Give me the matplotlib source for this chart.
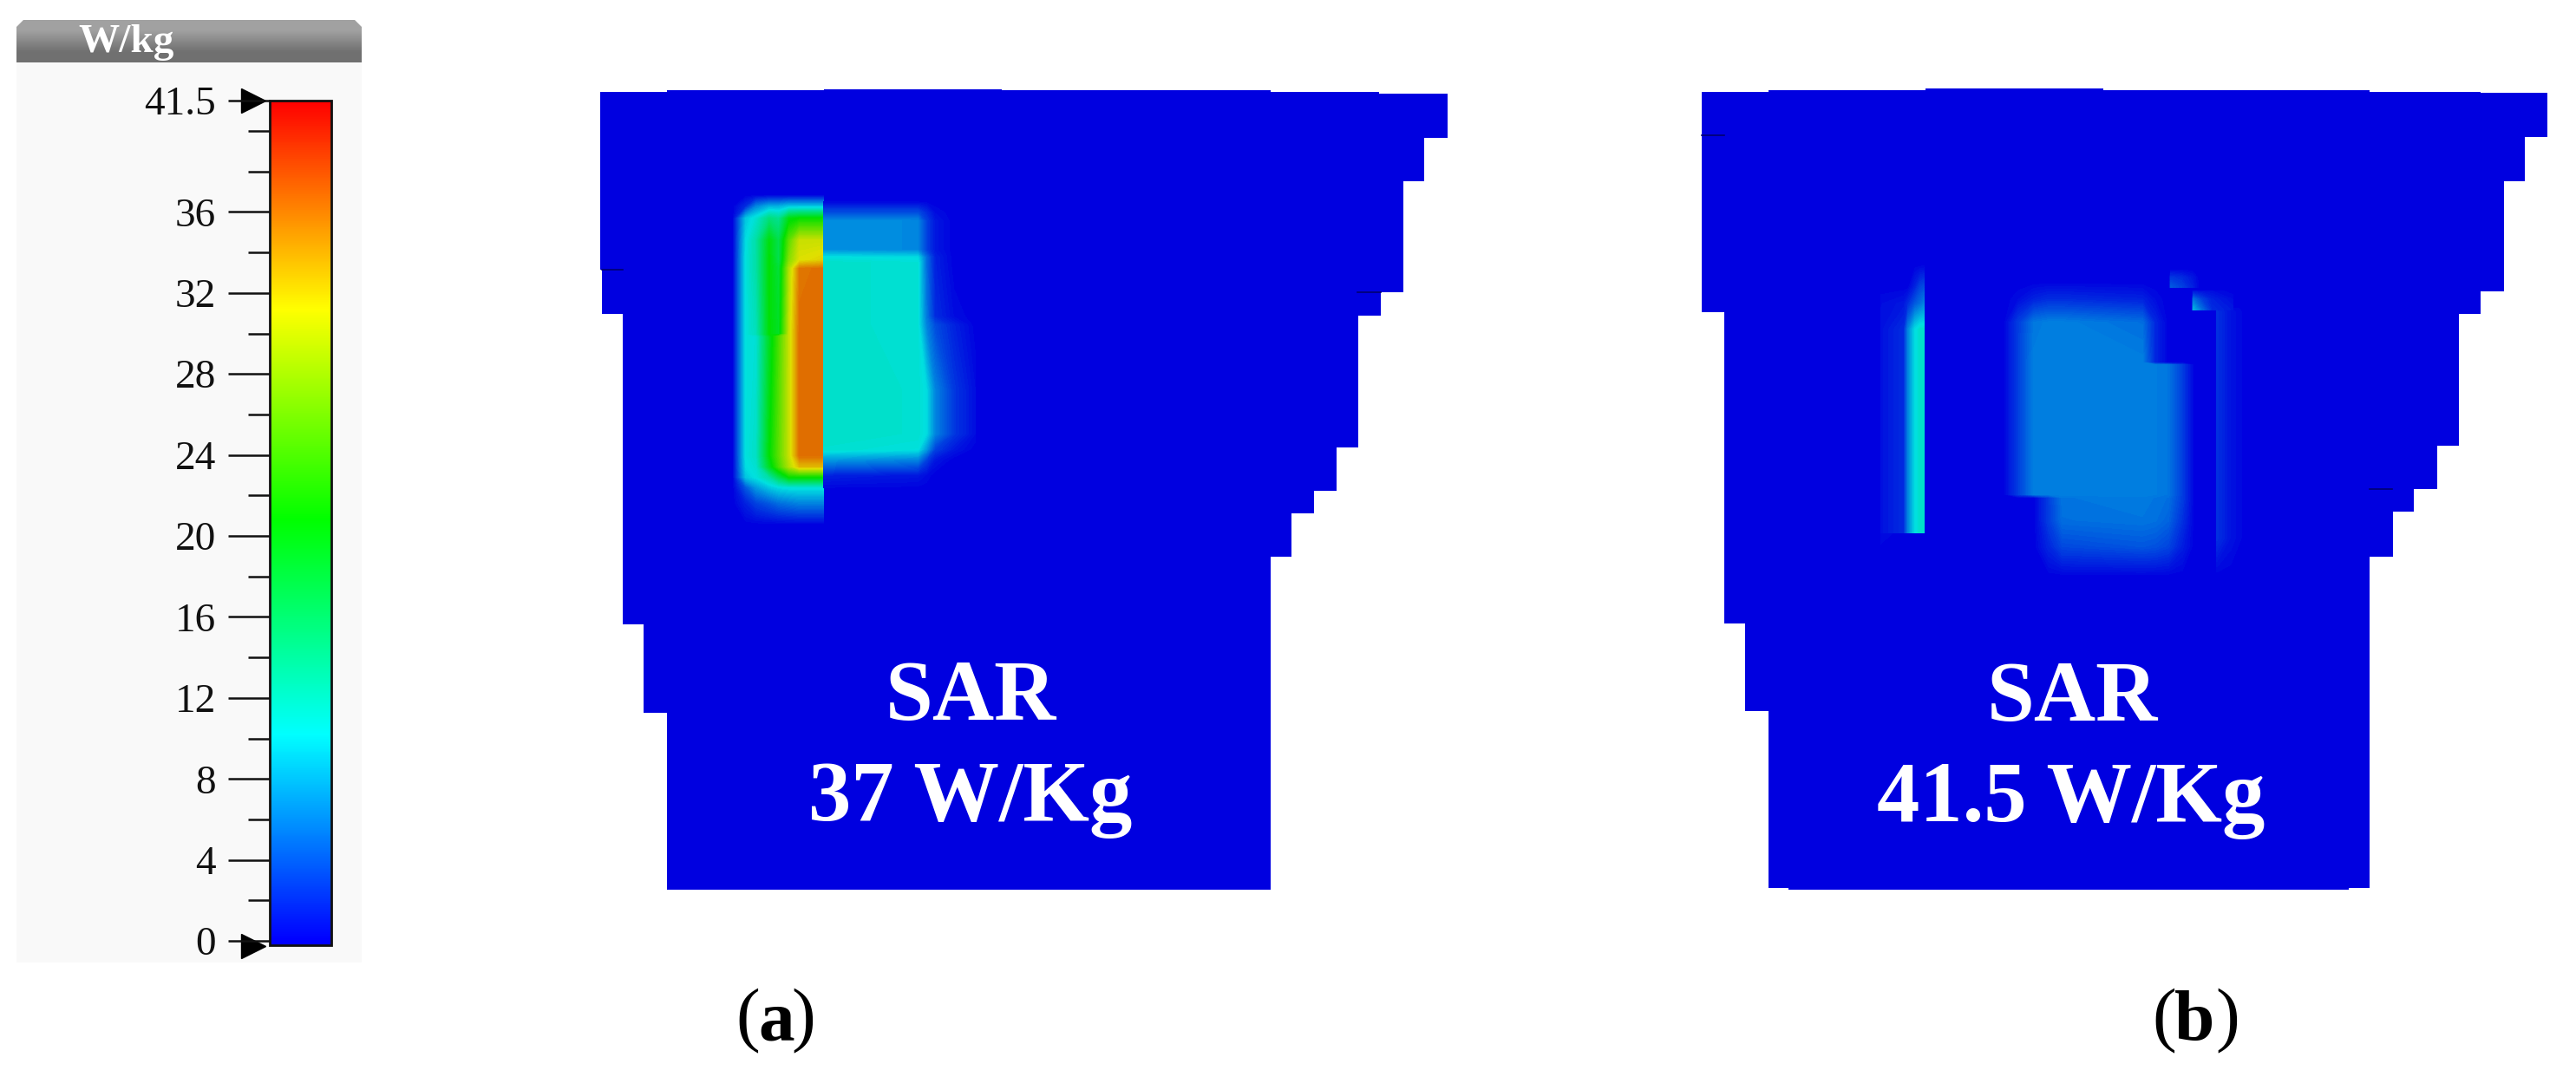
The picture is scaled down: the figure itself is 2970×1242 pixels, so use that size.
import numpy as np
import matplotlib
matplotlib.use('Agg')
import matplotlib.pyplot as plt
from matplotlib.colors import LinearSegmentedColormap, Normalize
from matplotlib.cm import ScalarMappable
from matplotlib.patches import Polygon, Rectangle

W, H = 2970, 1242
SERIF = 'Liberation Serif'

# scale bar
scale_low = -0.21
scale_top = 41.5
scale_stops = [0, 10.2, 20.8, 31.2, 41.5]
scale_colors = ['#0000ff', '#00ffff', '#00ff00', '#ffff00', '#ff0000']
major_ticks = [0, 4, 8, 12, 16, 20, 24, 28, 32, 36, 41.5]
major_labels = ['0', '4', '8', '12', '16', '20', '24', '28', '32', '36', '41.5']
minor_ticks = [2, 6, 10, 14, 18, 22, 26, 30, 34, 38, 40]

# outlines of the two phantoms, in picture pixels
outline_a_x = [692, 769, 769, 950, 950, 1155, 1155, 1465, 1465, 1590, 1590, 1669, 1669, 1642, 1642, 1618, 1618,
               1592, 1592, 1566, 1566, 1541, 1541, 1515, 1515, 1489, 1489, 1465, 1465, 769, 769, 742, 742, 718, 718,
               694, 694, 692]
outline_a_y = [106, 106, 104, 104, 103, 103, 104, 104, 106, 106, 108, 108, 159, 159, 209, 209, 337,
               337, 364, 364, 516, 516, 566, 566, 592, 592, 642, 642, 1026, 1026, 822, 822, 720, 720, 362,
               362, 311, 311]
outline_b_x = [1962, 2039, 2039, 2220, 2220, 2425, 2425, 2732, 2732, 2860, 2860, 2937, 2937, 2911, 2911, 2887, 2887,
               2860, 2860, 2835, 2835, 2810, 2810, 2783, 2783, 2759, 2759, 2732, 2732, 2708, 2708, 2062, 2062,
               2039, 2039, 2012, 2012, 1988, 1988, 1962]
outline_b_y = [106, 106, 104, 104, 102, 102, 104, 104, 106, 106, 107, 107, 158, 158, 209, 209, 336,
               336, 362, 362, 514, 514, 564, 564, 590, 590, 642, 642, 1024, 1024, 1026, 1026, 1024,
               1024, 820, 820, 719, 719, 360, 360]

# SAR, left of the step
a_left_x = [845, 860, 872, 887, 898, 910, 922, 949.5]
a_left_y = [225, 238, 252, 277, 300, 310, 385, 388, 525, 538, 550, 562, 580, 605]
a_left_sar = [
    [0, 0, 0, 0, 0, 0, 0, 0],
    [0, 2, 6, 8, 8, 9, 9, 9],
    [0, 9, 11, 15, 14, 20, 21, 21],
    [0, 10, 13, 20, 17, 25, 30, 30],
    [0, 10.4, 13, 20.5, 17, 27, 31, 32],
    [0, 10.4, 13, 20.5, 18, 29, 36, 36.5],
    [0, 10.4, 12, 20.5, 19, 30, 36.5, 36.5],
    [0, 10.4, 10.8, 19, 24, 30, 36.5, 36.5],
    [0, 10.4, 11.5, 20.5, 25, 30, 36.5, 36.5],
    [0, 10, 11, 19, 24, 29, 33, 33],
    [0, 9, 10.4, 13, 17, 21, 21, 21],
    [0, 4, 7, 9, 10, 10.4, 10.5, 10.5],
    [0, 1.5, 3, 4, 5, 5.5, 6, 6],
    [0, 0, 0, 0, 0, 0, 0, 0],
]

# panel (a), right of the step
a_right_x = [949.5, 1058, 1068, 1078, 1100, 1125]
a_right_y = [232, 245, 255, 288, 297, 303, 365, 375, 450, 500, 518, 530, 548, 565]
a_right_sar = [
    [0, 0, 0, 0, 0, 0],
    [3.5, 3.5, 2, 0.5, 0, 0],
    [6.5, 6.2, 3, 1, 0, 0],
    [6.5, 6.2, 3, 1, 0, 0],
    [10.4, 10, 5, 1.5, 0, 0],
    [11.3, 10.8, 5, 1.5, 0, 0],
    [11.3, 10.8, 5.5, 2, 0.5, 0],
    [11.3, 10.8, 6, 3.5, 1.5, 0],
    [11.3, 11, 10, 6, 2.5, 0.5],
    [11.3, 11, 10, 6, 2.5, 0.5],
    [11, 10.4, 7, 3, 1, 0],
    [7, 6, 3, 1, 0, 0],
    [1.5, 1, 0.5, 0, 0, 0],
    [0, 0, 0, 0, 0, 0],
]

# panel (b), narrow strip
b_strip_x = [2168, 2195, 2200, 2208, 2214, 2219]
b_strip_y = [305, 330, 350, 380, 600, 614, 615, 640]
b_strip_sar = [
    [0, 0, 0, 0, 0, 0],
    [0, 0, 0, 1.5, 3, 3.5],
    [0.5, 1, 2, 4, 5, 6],
    [0.7, 2, 6, 10, 11.3, 11.3],
    [0.7, 2, 6, 10, 11.3, 11.3],
    [0.7, 2, 6, 10, 11.3, 11.3],
    [0.5, 0, 0, 0, 0, 0],
    [0, 0, 0, 0, 0, 0],
]

# panel (b), main block
b_block_x = [2310, 2327, 2345, 2362, 2378, 2470, 2485, 2500, 2516, 2530]
b_block_y = [325, 345, 372, 418, 421, 570, 574, 600, 630, 665]
b_block_sar = [
    [0, 0, 0, 0, 0, 0, 0, 0, 0, 0],
    [0, 0.5, 1.5, 2, 2, 1.5, 0.5, 0, 0, 0],
    [0, 2.8, 5.4, 5.8, 5.8, 5, 1.7, 0, 0, 0],
    [0, 2.8, 5.8, 5.8, 5.8, 5.8, 1.7, 0, 0, 0],
    [0, 2.8, 5.8, 5.8, 5.8, 5.8, 5.7, 5.3, 2.8, 0],
    [0, 2.8, 5.8, 5.8, 5.8, 5.8, 5.7, 5.3, 2.8, 0],
    [0, 0, 0, 2.8, 5.3, 5.6, 5.3, 5, 2.8, 0],
    [0, 0, 0, 2.8, 5, 5.3, 5.1, 4.5, 2.2, 0],
    [0, 0, 0, 1.7, 3.3, 3.9, 3.7, 3.1, 1.3, 0],
    [0, 0, 0, 0, 0, 0, 0, 0, 0, 0],
]

# panel (b), faint strip on the right
b_edge_x = [2555, 2556, 2572, 2590]
b_edge_y = [355, 360, 620, 665]
b_edge_sar = [
    [0, 1.5, 0.5, 0],
    [0, 2.2, 0.8, 0],
    [0, 2.2, 0.8, 0],
    [0, 0, 0, 0],
]

# panel (b), the two small squares
b_sq1_x = [2501, 2503, 2515, 2527, 2536]
b_sq1_y = [310, 320, 331, 332]
b_sq1_sar = [
    [0, 0, 0, 0, 0],
    [0, 2.5, 2, 1, 0],
    [0, 4, 3, 1.5, 0],
    [0, 0, 0, 0, 0],
]
b_sq2_x = [2527, 2529, 2538, 2550, 2575]
b_sq2_y = [335, 345, 357, 358]
b_sq2_sar = [
    [0, 0.5, 0.5, 0.5, 0],
    [0, 5, 3, 1.5, 0.5],
    [0, 8, 5, 2, 1],
    [0, 0, 0, 0, 0],
]

# short dark marks on the outlines
marks_x = [(694, 718), (1565, 1592), (1962, 1988), (2732, 2758)]
marks_y = [311, 337, 156, 564]

sar_text = [('SAR', 1119, 830), ('37 W/Kg', 1119, 946), ('SAR', 2389, 831), ('41.5 W/Kg', 2388, 947)]


def stops(colors):
    pos = [(v - scale_low) / (scale_top - scale_low) for v in scale_stops]
    return [(0, colors[0])] + list(zip(pos, colors))


dim = 0.88
scale_cmap = LinearSegmentedColormap.from_list('sar', stops(scale_colors), N=512)
render_colors = [tuple(c * dim for c in matplotlib.colors.to_rgb(h)) for h in scale_colors]
render_cmap = LinearSegmentedColormap.from_list('sar_dim', stops(render_colors), N=512)
norm = Normalize(scale_low, scale_top)
levels = np.arange(0.25, 41.5, 0.3)


def field(ax, x, y, sar):
    ax.contourf(x, y, np.array(sar), levels=levels, cmap=render_cmap, norm=norm, zorder=3)


def paren_label(ax, letter, left, mid, right, base):
    ax.text(left, base - 2, '(', family=SERIF, fontsize=60, ha='left', va='baseline')
    ax.text(mid, base, letter, family=SERIF, weight='bold', fontsize=60, ha='center', va='baseline')
    ax.text(right, base - 2, ')', family=SERIF, fontsize=60, ha='right', va='baseline')


fig = plt.figure(figsize=(W / 100, H / 100), dpi=100, facecolor='white')
ax = fig.add_axes([0, 0, 1, 1])
ax.set_xlim(0, W)
ax.set_ylim(H, 0)
ax.axis('off')

# panel behind the scale
ax.add_patch(Rectangle((19, 72), 398, 1038, fc='#f9f9f9', ec='none', zorder=1))
head = ax.imshow([[0.63], [0.44]], extent=(19, 417, 72, 23), cmap='gray', vmin=0, vmax=1,
                 interpolation='bilinear', aspect='auto', zorder=1)
ax.set_xlim(0, W)
ax.set_ylim(H, 0)
head.set_clip_path(Polygon([(27, 23), (409, 23), (417, 31), (417, 72), (19, 72), (19, 31)],
                           transform=ax.transData))
ax.text(146, 49, 'W/kg', family=SERIF, weight='bold', fontsize=34, color='white', ha='center', va='center',
        zorder=2)

# phantoms
for ox, oy in [(outline_a_x, outline_a_y), (outline_b_x, outline_b_y)]:
    ax.add_patch(Polygon(list(zip(ox, oy)), closed=True, fc='#0000e0', ec='none', zorder=2))

field(ax, a_left_x, a_left_y, a_left_sar)
field(ax, a_right_x, a_right_y, a_right_sar)
field(ax, b_strip_x, b_strip_y, b_strip_sar)
field(ax, b_block_x, b_block_y, b_block_sar)
field(ax, b_edge_x, b_edge_y, b_edge_sar)
field(ax, b_sq1_x, b_sq1_y, b_sq1_sar)
field(ax, b_sq2_x, b_sq2_y, b_sq2_sar)

for mx, my in zip(marks_x, marks_y):
    ax.plot(mx, [my, my], color='#000070', lw=1.2, zorder=4)

for txt, tx, ty in sar_text:
    ax.text(tx, ty, txt, family=SERIF, weight='bold', fontsize=71, color='white', ha='center', va='baseline',
            zorder=5)

paren_label(ax, 'a', 848, 895, 940, 1199)
paren_label(ax, 'b', 2481, 2530, 2582, 1199)

# scale bar with its ticks
bar_l, bar_r, bar_t, bar_b = 311, 382, 116, 1090
cax = fig.add_axes([bar_l / W, 1 - bar_b / H, (bar_r - bar_l) / W, (bar_b - bar_t) / H])
cb = fig.colorbar(ScalarMappable(norm=norm, cmap=scale_cmap), cax=cax)
cb.outline.set_linewidth(2.0)
cb.outline.set_edgecolor('#111111')
cax.yaxis.set_ticks_position('left')
cax.set_yticks(major_ticks, major_labels)
cax.set_yticks(minor_ticks, minor=True)
cax.tick_params(axis='y', which='major', length=34.5, width=1.8, pad=10, color='#111111', labelcolor='#111111',
                labelsize=34)
cax.tick_params(axis='y', which='minor', length=18, width=1.8, color='#111111')
for lab in cax.get_yticklabels():
    lab.set_family(SERIF)

# the two pointers at the ends of the scale
ax.plot([292, 292], [116, 1091], ls='none', marker='>', ms=20, color='black', zorder=6)

fig.savefig('out.png', dpi=100)
